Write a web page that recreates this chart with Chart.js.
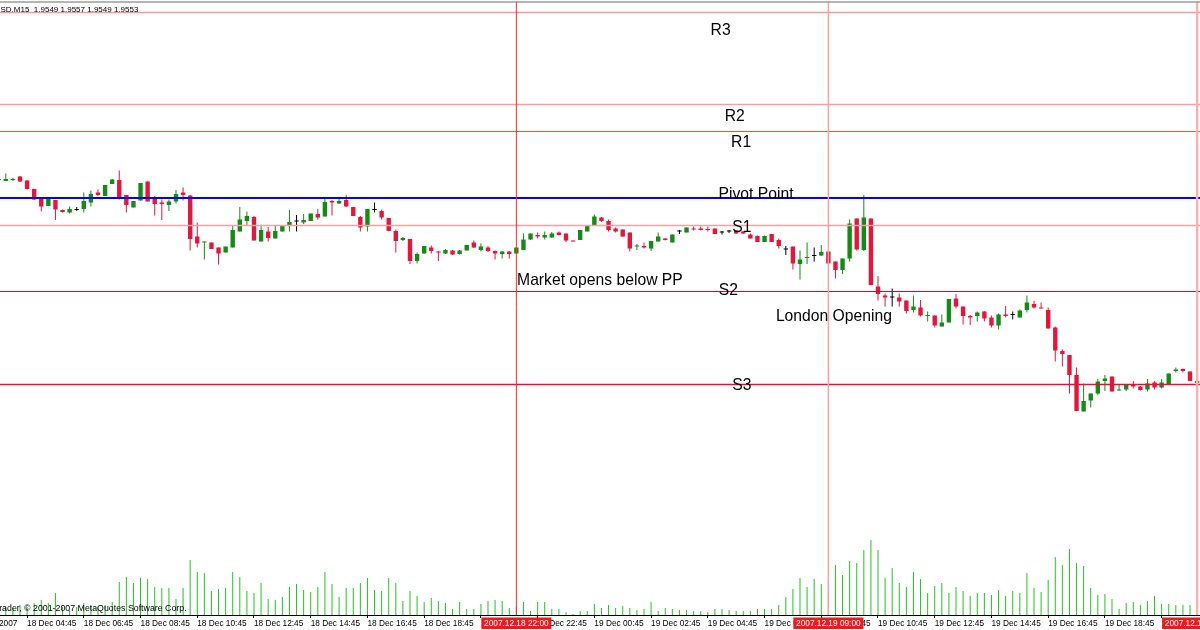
<!DOCTYPE html>
<html>
<head>
<meta charset="utf-8">
<script src="https://cdn.jsdelivr.net/npm/chart.js@4.4.1/dist/chart.umd.min.js"></script>
<style>
html,body{margin:0;padding:0;background:#fff;overflow:hidden}
canvas{display:block}
</style>
</head>
<body>
<canvas id="c" width="1200" height="630"></canvas>
<script>
// ---------- data ----------
const symbol = "GBPUSD.M15";
const lastQuote = [1.9549, 1.9557, 1.9549, 1.9553];   // O H L C of last bar
const firstBar = -1;   // bar number of first candle (bar 0 = 18 Dec 04:00, 15 min bars)

const open = [
1.9955,1.9953,1.9955,1.9962,1.9954,1.9937,1.9917,1.9903,1.9915,1.9895,
1.9890,1.9895,1.9897,1.9910,1.9930,1.9923,1.9947,1.9955,1.9925,1.9900,
1.9914,1.9952,1.9918,1.9910,1.9905,1.9912,1.9930,1.9924,1.9842,1.9830,
1.9830,1.9820,1.9810,1.9820,1.9852,1.9873,1.9881,1.9832,1.9852,1.9838,
1.9852,1.9863,1.9872,1.9870,1.9873,1.9887,1.9882,1.9913,1.9908,1.9915,
1.9901,1.9881,1.9862,1.9895,1.9893,1.9879,1.9853,1.9835,1.9837,1.9793,
1.9808,1.9820,1.9812,1.9808,1.9814,1.9807,1.9814,1.9830,1.9815,1.9820,
1.9813,1.9807,1.9812,1.9808,1.9815,1.9836,1.9845,1.9840,1.9840,1.9850,
1.9848,1.9834,1.9835,1.9852,1.9863,1.9880,1.9873,1.9858,1.9856,1.9850,
1.9822,1.9823,1.9818,1.9832,1.9838,1.9830,1.9852,1.9850,1.9858,1.9858,
1.9857,1.9858,1.9850,1.9852,1.9854,1.9852,1.9846,1.9843,1.9831,1.9847,
1.9835,1.9816,1.9822,1.9787,1.9799,1.9803,1.9804,1.9812,1.9792,1.9775,
1.9798,1.9878,1.9815,1.9878,1.9742,1.9724,1.9720,1.9720,1.9714,1.9695,
1.9700,1.9683,1.9684,1.9662,1.9670,1.9718,1.9702,1.9683,1.9683,1.9692,
1.9680,1.9664,1.9686,1.9685,1.9680,1.9695,1.9707,1.9700,1.9695,1.9660,
1.9613,1.9605,1.9565,1.9492,1.9514,1.9528,1.9553,1.9562,1.9534,1.9536,
1.9547,1.9542,1.9536,1.9550,1.9540,1.9546,1.9573,1.9577,1.9572,1.9549];

const high = [
1.9959,1.9968,1.9959,1.9963,1.9955,1.9937,1.9917,1.9917,1.9915,1.9896,
1.9902,1.9901,1.9930,1.9934,1.9936,1.9945,1.9957,1.9974,1.9925,1.9913,
1.9949,1.9952,1.9923,1.9916,1.9916,1.9935,1.9940,1.9925,1.9870,1.9832,
1.9830,1.9820,1.9822,1.9864,1.9901,1.9892,1.9883,1.9864,1.9861,1.9864,
1.9864,1.9895,1.9885,1.9887,1.9888,1.9897,1.9917,1.9915,1.9917,1.9925,
1.9901,1.9883,1.9897,1.9910,1.9896,1.9879,1.9856,1.9841,1.9837,1.9810,
1.9823,1.9824,1.9813,1.9817,1.9815,1.9815,1.9825,1.9834,1.9828,1.9823,
1.9814,1.9813,1.9813,1.9820,1.9848,1.9848,1.9850,1.9852,1.9851,1.9852,
1.9848,1.9834,1.9855,1.9864,1.9886,1.9881,1.9876,1.9860,1.9856,1.9850,
1.9827,1.9830,1.9833,1.9850,1.9839,1.9846,1.9855,1.9860,1.9862,1.9862,
1.9862,1.9858,1.9853,1.9855,1.9855,1.9853,1.9848,1.9844,1.9844,1.9847,
1.9838,1.9823,1.9822,1.9814,1.9830,1.9820,1.9825,1.9812,1.9792,1.9798,
1.9876,1.9878,1.9925,1.9878,1.9763,1.9728,1.9738,1.9728,1.9714,1.9724,
1.9715,1.9692,1.9684,1.9686,1.9717,1.9727,1.9702,1.9685,1.9692,1.9693,
1.9684,1.9688,1.9703,1.9692,1.9696,1.9724,1.9713,1.9710,1.9700,1.9662,
1.9616,1.9605,1.9580,1.9548,1.9528,1.9557,1.9565,1.9562,1.9545,1.9545,
1.9553,1.9543,1.9557,1.9553,1.9557,1.9568,1.9580,1.9578,1.9572,1.9557];

const low = [
1.9951,1.9953,1.9953,1.9951,1.9936,1.9915,1.9892,1.9903,1.9875,1.9890,
1.9888,1.9893,1.9890,1.9902,1.9923,1.9923,1.9947,1.9916,1.9890,1.9900,
1.9914,1.9912,1.9884,1.9875,1.9893,1.9908,1.9914,1.9814,1.9820,1.9796,
1.9817,1.9786,1.9810,1.9820,1.9852,1.9865,1.9834,1.9832,1.9832,1.9838,
1.9852,1.9852,1.9852,1.9867,1.9873,1.9876,1.9882,1.9884,1.9907,1.9902,
1.9883,1.9852,1.9852,1.9890,1.9876,1.9853,1.9810,1.9833,1.9787,1.9788,
1.9808,1.9808,1.9793,1.9807,1.9805,1.9806,1.9814,1.9819,1.9812,1.9811,
1.9796,1.9798,1.9798,1.9808,1.9815,1.9835,1.9838,1.9836,1.9839,1.9844,
1.9831,1.9832,1.9835,1.9852,1.9863,1.9871,1.9852,1.9850,1.9841,1.9812,
1.9815,1.9818,1.9813,1.9832,1.9834,1.9830,1.9847,1.9850,1.9854,1.9854,
1.9852,1.9847,1.9846,1.9849,1.9847,1.9847,1.9838,1.9831,1.9831,1.9831,
1.9818,1.9805,1.9776,1.9756,1.9787,1.9792,1.9803,1.9788,1.9758,1.9767,
1.9792,1.9814,1.9813,1.9744,1.9714,1.9702,1.9702,1.9702,1.9688,1.9690,
1.9682,1.9672,1.9660,1.9662,1.9670,1.9698,1.9666,1.9665,1.9672,1.9672,
1.9660,1.9656,1.9680,1.9676,1.9680,1.9690,1.9698,1.9698,1.9658,1.9592,
1.9582,1.9528,1.9493,1.9492,1.9500,1.9525,1.9533,1.9532,1.9534,1.9533,
1.9538,1.9534,1.9532,1.9536,1.9538,1.9546,1.9570,1.9570,1.9553,1.9549];

const close = [
1.9956,1.9957,1.9957,1.9952,1.9937,1.9916,1.9902,1.9917,1.9896,1.9891,
1.9897,1.9895,1.9913,1.9927,1.9925,1.9945,1.9956,1.9918,1.9905,1.9913,
1.9949,1.9912,1.9907,1.9907,1.9912,1.9927,1.9925,1.9837,1.9828,1.9832,
1.9817,1.9808,1.9822,1.9855,1.9876,1.9883,1.9834,1.9855,1.9839,1.9853,
1.9864,1.9871,1.9872,1.9875,1.9888,1.9880,1.9911,1.9910,1.9913,1.9902,
1.9883,1.9860,1.9897,1.9895,1.9880,1.9853,1.9833,1.9839,1.9793,1.9807,
1.9823,1.9813,1.9810,1.9815,1.9806,1.9814,1.9825,1.9820,1.9822,1.9813,
1.9808,1.9812,1.9807,1.9820,1.9836,1.9848,1.9842,1.9845,1.9848,1.9845,
1.9834,1.9832,1.9855,1.9864,1.9882,1.9873,1.9855,1.9852,1.9842,1.9818,
1.9824,1.9820,1.9833,1.9842,1.9835,1.9846,1.9852,1.9860,1.9856,1.9855,
1.9855,1.9847,1.9850,1.9852,1.9848,1.9848,1.9838,1.9831,1.9843,1.9831,
1.9823,1.9816,1.9788,1.9796,1.9801,1.9803,1.9811,1.9788,1.9775,1.9798,
1.9868,1.9816,1.9880,1.9745,1.9727,1.9720,1.9720,1.9712,1.9693,1.9702,
1.9684,1.9685,1.9664,1.9670,1.9717,1.9702,1.9683,1.9680,1.9690,1.9678,
1.9664,1.9686,1.9683,1.9685,1.9694,1.9710,1.9700,1.9698,1.9658,1.9614,
1.9607,1.9565,1.9493,1.9513,1.9528,1.9552,1.9558,1.9532,1.9536,1.9545,
1.9542,1.9535,1.9548,1.9540,1.9550,1.9568,1.9576,1.9573,1.9553,1.9553];

const volume = [
5,8,7,10,8,12,15,12,22,8,
5,8,12,9,8,10,13,33,38,32,
37,36,28,27,27,16,27,55,43,42,
24,26,27,43,38,24,22,32,16,15,
18,28,31,25,23,28,43,31,18,27,
27,32,37,25,24,37,32,14,24,19,
13,17,14,12,6,13,6,6,11,14,
15,14,7,8,13,4,13,13,6,6,
3,1,4,4,11,7,10,7,9,7,
5,6,13,4,7,6,5,5,4,4,
3,6,6,5,4,4,4,6,6,6,
10,18,26,37,28,36,31,35,50,40,
54,52,65,75,65,37,47,32,28,43,
36,22,29,32,22,28,24,19,22,22,
20,25,19,24,22,42,27,23,35,58,
50,66,52,49,27,20,21,16,6,12,
13,10,14,19,11,11,10,10,10,2];

const tickBars = [-5,3,11,19,27,35,43,51,59,67,75,83,91,99,107,115,123,131,139,147,155,163];
const tickLabels = ["18 Dec 2007","18 Dec 04:45","18 Dec 06:45","18 Dec 08:45","18 Dec 10:45",
  "18 Dec 12:45","18 Dec 14:45","18 Dec 16:45","18 Dec 18:45","18 Dec 20:45","18 Dec 22:45",
  "19 Dec 00:45","19 Dec 02:45","19 Dec 04:45","19 Dec 06:45","19 Dec 08:45","19 Dec 10:45",
  "19 Dec 12:45","19 Dec 14:45","19 Dec 16:45","19 Dec 18:45","19 Dec 20:45"];

const levelNames  = ["R3","R2","R1","PP","S1","S2","S3"];
const levelValues = [2.0290, 2.0106, 2.0052, 1.9919, 1.9864, 1.9732, 1.9546];

const vlineBars   = [72, 116, 168];
const vlineLabels = ["2007.12.18 22:00", "2007.12.19 09:00", "2007.12.19 22:00"];

const noteTexts  = ["R3","R2","R1","Pivot Point","S1","S2","S3","Market opens below PP","London Opening"];
const noteBars   = [100.8, 102.8, 103.7, 105.8, 103.8, 101.9, 103.8, 72.1, 108.6];
const notePrices = [2.0246, 2.0073, 2.0022, 1.9917, 1.9852, 1.9725, 1.9536, 1.9746, 1.9674];

// ---------- styles / scale settings ----------
const noteAlign   = ["center","center","center","center","center","center","center","left","left"];
const levelColors = ["#f59a9a","#f5a0a0","#e9553e","#0000ff","#f0a4a4","#c8102e","#e3103a"];
const levelWidths = [1.3, 1.3, 1, 2, 1.3, 1, 1.3];
const vlineColors = ["#ff2a2a","#f5a5a5","#f7b3b3"];
const vlineWidths = [1, 1.5, 2.5];
const priceMin = 1.9085, priceMax = 2.0315;
const xMin = -0.818, xMax = 168.41;
const volMax = 615;
const FONT = "'Liberation Sans', Arial, sans-serif";

const bull = "#168a16", bear = "#e4163c", doji = "#000000";
const barNo = open.map((_, i) => firstBar + i);
const candleColor = open.map((o, i) => close[i] > o ? bull : (close[i] < o ? bear : doji));

const overlay = {
  id: "overlay",
  afterDatasetsDraw(chart) {
    const { ctx, chartArea: a } = chart;
    const xs = chart.scales.x, ys = chart.scales.y;
    ctx.save();
    levelValues.forEach((v, i) => {
      const py = ys.getPixelForValue(v);
      ctx.strokeStyle = levelColors[i]; ctx.lineWidth = levelWidths[i];
      ctx.beginPath(); ctx.moveTo(a.left, py); ctx.lineTo(a.right, py); ctx.stroke();
    });
    vlineBars.forEach((b, i) => {
      const px = xs.getPixelForValue(b);
      ctx.strokeStyle = vlineColors[i]; ctx.lineWidth = vlineWidths[i];
      ctx.beginPath(); ctx.moveTo(px, a.top); ctx.lineTo(px, a.bottom); ctx.stroke();
    });
    ctx.fillStyle = "#000";
    ctx.font = "15.7px " + FONT;
    ctx.textBaseline = "alphabetic";
    noteTexts.forEach((t, i) => {
      ctx.textAlign = noteAlign[i];
      ctx.fillText(t, xs.getPixelForValue(noteBars[i]), ys.getPixelForValue(notePrices[i]));
    });
    ctx.restore();
  },
  afterDraw(chart) {
    const { ctx, chartArea: a } = chart;
    const xs = chart.scales.x;
    ctx.save();
    ctx.fillStyle = "#000"; ctx.textAlign = "left"; ctx.textBaseline = "alphabetic";
    ctx.font = "8.8px " + FONT;
    const pre = ctx.measureText("MetaT").width;
    ctx.fillText("MetaTrader, \u00a9 2001-2007 MetaQuotes Software Corp.", -pre - 0.5, a.bottom - 4);
    ctx.font = "8px " + FONT;
    const hp = ctx.measureText("GBPU").width;
    ctx.fillText(symbol + "  " + lastQuote.map(v => v.toFixed(4)).join(" "), 0.5 - hp, 11.5);
    ctx.fillStyle = "#fff"; ctx.fillRect(0, 0, chart.width, 1.4);
    ctx.strokeStyle = "#9c9c9c"; ctx.lineWidth = 1.3;
    ctx.beginPath(); ctx.moveTo(0, 2); ctx.lineTo(chart.width, 2); ctx.stroke();
    ctx.font = "8.3px " + FONT; ctx.textAlign = "center"; ctx.textBaseline = "middle";
    vlineBars.forEach((b, i) => {
      const px = xs.getPixelForValue(b);
      ctx.fillStyle = "#f01818"; ctx.fillRect(px - 35, a.bottom + 2.5, 70, 11.5);
      ctx.fillStyle = "#fff"; ctx.fillText(vlineLabels[i], px, a.bottom + 8.5);
    });
    ctx.restore();
  }
};

new Chart(document.getElementById("c"), {
  type: "bar",
  data: {
    datasets: [
      { label: "Body", data: barNo.map((k, i) => ({ x: k, y: [open[i], close[i]] })),
        backgroundColor: candleColor, barThickness: 4.4, minBarLength: 1, grouped: false,
        order: 0, yAxisID: "y", inflateAmount: 0, borderWidth: 0 },
      { label: "Wick", data: barNo.map((k, i) => ({ x: k, y: [low[i], high[i]] })),
        backgroundColor: candleColor, barThickness: 1, minBarLength: 1, grouped: false,
        order: 1, yAxisID: "y", inflateAmount: 0, borderWidth: 0 },
      { label: "Volume", data: barNo.map((k, i) => ({ x: k, y: volume[i] })),
        backgroundColor: "#22c422", barThickness: 1, grouped: false,
        order: 2, yAxisID: "yv", inflateAmount: 0, borderWidth: 0 }
    ]
  },
  options: {
    responsive: false, maintainAspectRatio: false, animation: false, devicePixelRatio: 1,
    events: [],
    layout: { padding: 0, autoPadding: false },
    plugins: { legend: { display: false }, tooltip: { enabled: false } },
    scales: {
      x: {
        type: "linear", min: xMin, max: xMax, offset: false,
        grid: { display: true, drawOnChartArea: false, drawTicks: true, tickLength: 3, color: "#000", lineWidth: 1, offset: false },
        border: { display: true, color: "#000", width: 1 },
        ticks: { autoSkip: false, maxRotation: 0, minRotation: 0, align: "start", padding: 1,
                 color: "#000", font: { family: FONT, size: 8.3 },
                 callback: (v, i) => tickLabels[i] },
        afterBuildTicks: s => { s.ticks = tickBars.map(v => ({ value: v })); },
        afterFit: s => { s.height = 15; s.paddingLeft = 0; s.paddingRight = 0; }
      },
      y:  { display: false, min: priceMin, max: priceMax },
      yv: { display: false, min: 0, max: volMax }
    }
  },
  plugins: [overlay]
});
</script>
</body>
</html>
